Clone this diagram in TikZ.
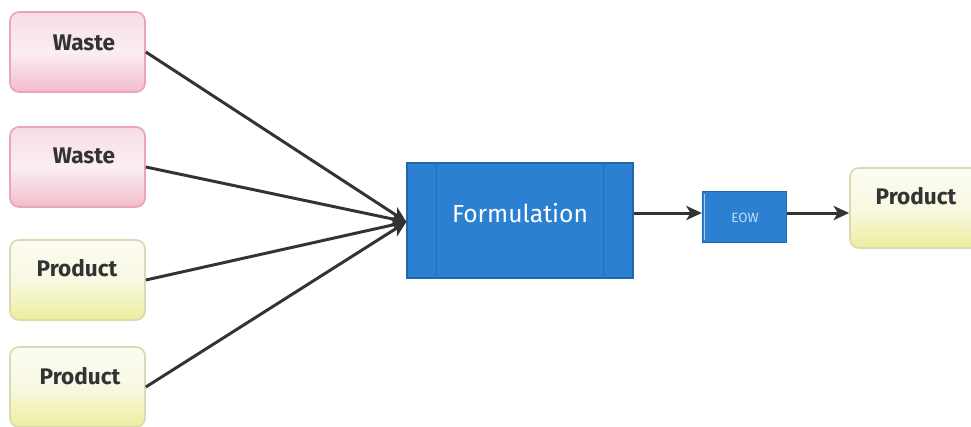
\documentclass[tikz,border=0pt]{standalone}
\usepackage{fontspec}
\setmainfont{Fira Sans}
\usetikzlibrary{arrows.meta,calc}
\definecolor{pinkTop}{HTML}{F7DCE6}
\definecolor{pinkMid}{HTML}{FBEEF3}
\definecolor{pinkBot}{HTML}{F2BCCB}
\definecolor{pinkLine}{HTML}{E9A6B9}
\definecolor{yelTop}{HTML}{FCFCF4}
\definecolor{yelMid}{HTML}{F8F8E2}
\definecolor{yelBot}{HTML}{ECEF9E}
\definecolor{yelLine}{HTML}{D9DAB2}
\definecolor{procFill}{HTML}{2B80D2}
\definecolor{procLine}{HTML}{1F67B0}
\definecolor{procRule}{HTML}{2371C0}
\definecolor{inkGray}{HTML}{333333}
\newdimen\pxu \pxu=0.709pt
\tikzset{
  srcbox/.style={rounded corners=9\pxu, minimum width=135\pxu, minimum height=80\pxu,
    inner sep=0pt, line width=1.2pt},
  wastebox/.style={srcbox, draw=pinkLine, top color=pinkTop, bottom color=pinkBot, middle color=pinkMid},
  prodbox/.style={srcbox, draw=yelLine, top color=yelTop, bottom color=yelBot, middle color=yelMid},
  boxtext/.style={font=\fontsize{16}{18}\selectfont\bfseries, text=inkGray, inner sep=0pt},
  procbox/.style={draw=procLine, fill=procFill, line width=0.8pt, inner sep=0pt},
  flow/.style={draw=inkGray, line width=2.1pt, -{Stealth[length=11pt,width=10pt,inset=3pt]}},
}
\begin{document}
\begin{tikzpicture}[x=\pxu, y=-\pxu]
\useasboundingbox (0,0) rectangle (971,427);
\clip (0,0) rectangle (971,427);
\fill[white] (0,0) rectangle (971,427);

% input streams
\node[wastebox] (w1) at (77.5,52) {};
\node[wastebox] (w2) at (77.5,167) {};
\node[prodbox]  (p1) at (77.5,280) {};
\node[prodbox]  (p2) at (77.5,387) {};
\node[boxtext] (w1t) at (84,43) {Waste};
\node[boxtext] (w2t) at (84,156) {Waste};
\node[boxtext] (p1t) at (77,268) {Product};
\node[boxtext] (p2t) at (80,376) {Product};

% process
\node[procbox, minimum width=226\pxu, minimum height=115\pxu] (form) at (520,220.5) {};
\draw[procRule, line width=0.8pt] ($(form.north west)+(30,0)$) -- ($(form.south west)+(30,0)$);
\draw[procRule, line width=0.8pt] ($(form.north east)+(-30,0)$) -- ($(form.south east)+(-30,0)$);
\node[font=\fontsize{17.5}{20}\selectfont, text=white, inner sep=0pt] (formt) at (520,213) {Formulation};

\node[procbox, minimum width=84\pxu, minimum height=51\pxu, line width=1pt] (eow) at (744.5,217) {};
\draw[white!60!procFill, line width=0.8pt] ($(eow.north west)+(3,3)$) -- ($(eow.south west)+(3,-3)$);
\node[font=\fontsize{9.5}{11}\selectfont, text=white!72!procFill, inner sep=0pt] (eowt) at (745,218) {EOW};

% output
\node[prodbox] (out) at (917.5,208) {};
\node[boxtext] (outt) at (916,196) {Product};

% connectors
\coordinate (join) at ([yshift=-1]form.west);
\coordinate (formout) at ([yshift=5.3]form.east);
\coordinate (eowin) at (eow.west |- formout);
\coordinate (eowout) at (eow.east |- formout);
\draw[flow] (w1.east) -- (join);
\draw[flow] (w2.east) -- (join);
\draw[flow] (p1.east) -- (join);
\draw[flow] (p2.east) -- (join);
\draw[flow] (formout) -- (eowin);
\draw[flow] (eowout) -- (out.west |- eowout);
\end{tikzpicture}
\end{document}
